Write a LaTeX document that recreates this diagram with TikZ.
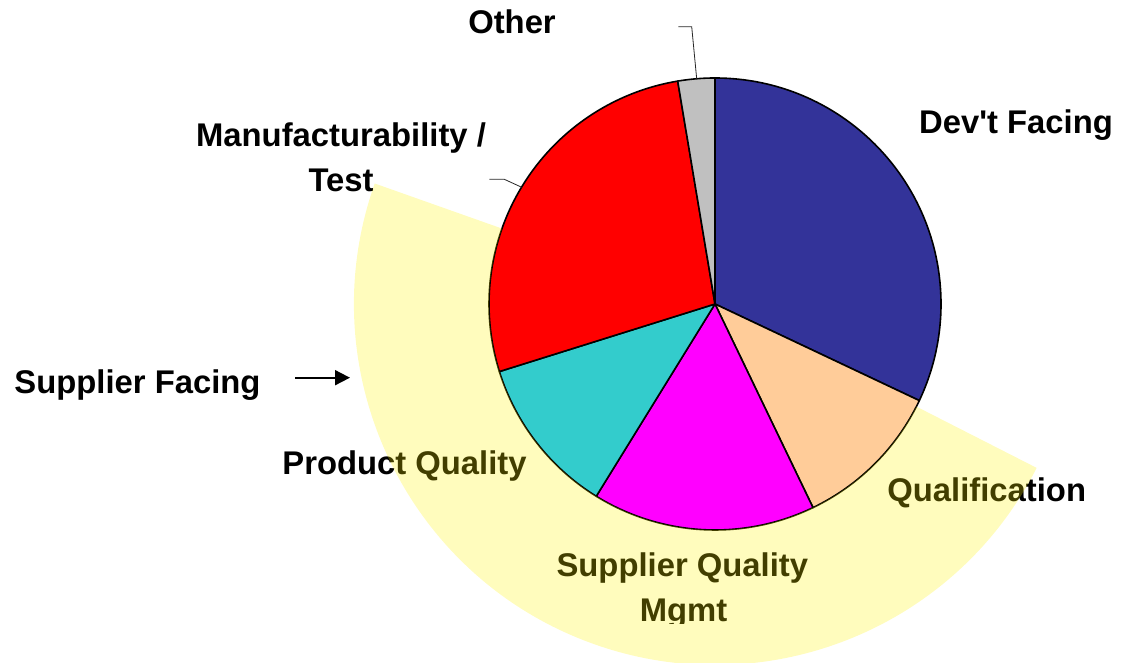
\documentclass[tikz,border=0pt]{standalone}
\usepackage{fontspec}
\setmainfont{Liberation Sans}
\usetikzlibrary{arrows.meta,calc}
\definecolor{devblue}{HTML}{333399}
\definecolor{peach}{HTML}{FFCC99}
\definecolor{magen}{HTML}{FF00FF}
\definecolor{cyanish}{HTML}{33CCCC}
\definecolor{pred}{HTML}{FF0000}
\definecolor{pgrey}{HTML}{C0C0C0}
\tikzset{
  slice/.style={draw=black, line width=1.6pt, line join=round},
  lbl/.style={font=\bfseries\fontsize{32.8}{45}\selectfont, text=black, inner sep=0pt, anchor=base},
  leader/.style={draw=black!85, line width=0.8pt},
  band/.style={fill=yellow, fill opacity=0.26, draw=none}
}
\begin{document}
\begin{tikzpicture}[x=1pt,y=1pt]
\useasboundingbox (0,0) rectangle (1134,663);
\coordinate (C) at (715,359);
% pie slices
\filldraw[slice, fill=devblue] (C) -- ++(90:226pt) arc[start angle=90, end angle=-25.3, radius=226pt] -- cycle;
\filldraw[slice, fill=peach] (C) -- ++(-25.3:226pt) arc[start angle=-25.3, end angle=-64.3, radius=226pt] -- cycle;
\filldraw[slice, fill=magen] (C) -- ++(-64.3:226pt) arc[start angle=-64.3, end angle=-121.7, radius=226pt] -- cycle;
\filldraw[slice, fill=cyanish] (C) -- ++(-121.7:226pt) arc[start angle=-121.7, end angle=-162.6, radius=226pt] -- cycle;
\filldraw[slice, fill=pred] (C) -- ++(-162.6:226pt) arc[start angle=-162.6, end angle=-260.5, radius=226pt] -- cycle;
\filldraw[slice, fill=pgrey] (C) -- ++(-260.5:226pt) arc[start angle=-260.5, end angle=-270, radius=226pt] -- cycle;
% labels
\node[lbl] (other) at (512,629.7) {Other};
\node[lbl] (mfg1) at (341,516.3) {Manufacturability /};
\node[lbl] (mfg2) at (341,471.3) {Test};
\node[lbl] (dev) at (1016,529.7) {Dev\textquotesingle t Facing};
\node[lbl] (supf) at (137.5,269.7) {Supplier Facing};
\node[lbl] (prod) at (404.5,188) {Product Quality};
\node[lbl] (qual) at (986.7,161.3) {Qualification};
\node[lbl] (sqm1) at (682.3,86.3) {Supplier Quality};
\begin{scope}
\clip (560,39) rectangle (800,80);
\node[lbl] (sqm2) at (683.5,41.3) {Mgmt};
\end{scope}
% leader lines
\coordinate (oth0) at (678.3,636.3);
\coordinate (oth1) at (691.7,636.3);
\coordinate (oth2) at (696.7,584);
\draw[leader] (oth0) -- (oth1) -- (oth2);
\coordinate (mf0) at (489.3,483.7);
\coordinate (mf1) at (504.3,483.7);
\coordinate (mf2) at (521.7,475.7);
\draw[leader] (mf0) -- (mf1) -- (mf2);
% arrow
\coordinate (ar0) at (295,285.3);
\coordinate (ar1) at (350,285.3);
\draw[line width=1.8pt, -{Triangle[length=15pt,width=15pt]}] (ar0) -- (ar1);
% supplier-facing band
\path[band] ($(C)+(160.5:361pt)$) arc[start angle=160.5, end angle=333, radius=361pt]
  -- ($(C)+(333:226pt)$) arc[start angle=333, end angle=160.5, radius=226pt] -- cycle;
\end{tikzpicture}
\end{document}
